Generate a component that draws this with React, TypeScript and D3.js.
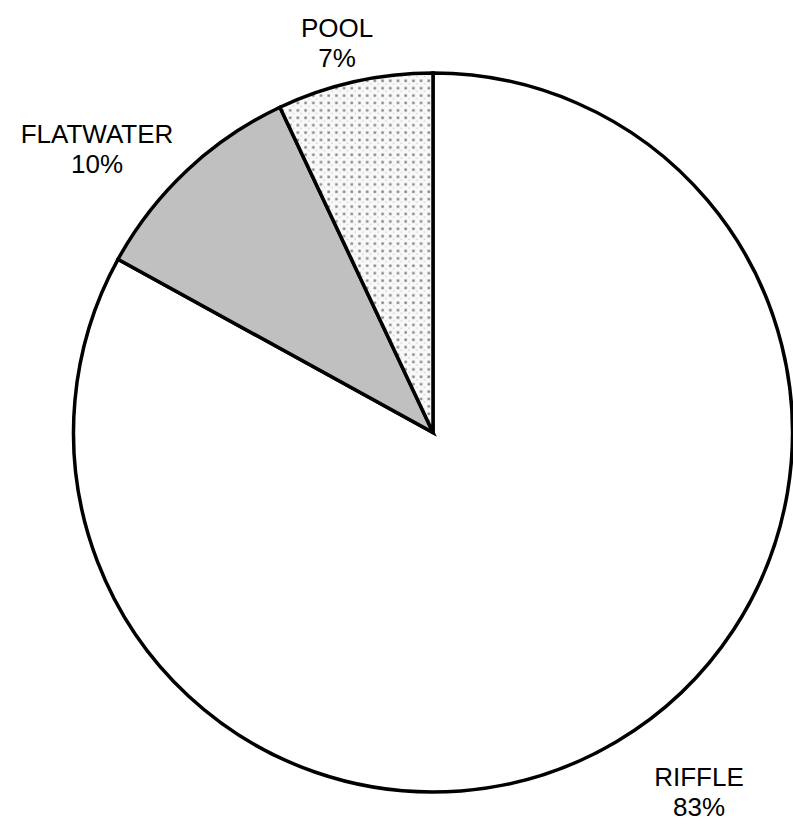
import React from "react";
import * as d3 from "d3";

const categories = ["RIFFLE", "FLATWATER", "POOL"];
const percents = [83, 10, 7];
const fills = ["#ffffff", "#c0c0c0", "url(#dots)"];
// label anchor positions (x, y of first line centre)
const labelX = [699, 97, 337];
const labelY = [777, 134, 28];

const W = 793;
const H = 827;
const cx = 433;
const cy = 432.5;
const R = 359.5;

export default function App() {
  const pie = d3
    .pie<number>()
    .sort(null)
    .value((d) => d);
  const arcs = pie(percents);
  const arc = d3.arc<d3.PieArcDatum<number>>().innerRadius(0).outerRadius(R);

  return (
    <svg
      width={W}
      height={H}
      style={{ position: "absolute", left: 0, top: 0, background: "#fff" }}
    >
      <defs>
        <pattern id="dots" patternUnits="userSpaceOnUse" width={7.7} height={7.4}>
          <rect width={7.7} height={7.4} fill="#f9f9f9" />
          <rect x={2} y={2} width={3} height={3} fill="#8a8a8a" opacity={0.4} />
          <rect x={2.5} y={2.5} width={2} height={2} fill="#808080" />
          <rect x={6.2} y={6} width={1.8} height={1.8} fill="#d0d0d0" />
        </pattern>
      </defs>
      <g transform={`translate(${cx},${cy})`}>
        {arcs.map((a, i) => (
          <path
            key={categories[i]}
            d={arc(a) || ""}
            fill={fills[i]}
            stroke="#000"
            strokeWidth={3.5}
            strokeLinejoin="miter"
          />
        ))}
      </g>
      {categories.map((c, i) => (
        <text
          key={c}
          x={labelX[i]}
          y={labelY[i]}
          textAnchor="middle"
          fontFamily="Liberation Sans, Arial, sans-serif"
          fontSize={26}
          fill="#000"
        >
          <tspan x={labelX[i]} dy="0.35em">
            {c}
          </tspan>
          <tspan x={labelX[i]} dy={29.5}>
            {percents[i]}%
          </tspan>
        </text>
      ))}
    </svg>
  );
}
